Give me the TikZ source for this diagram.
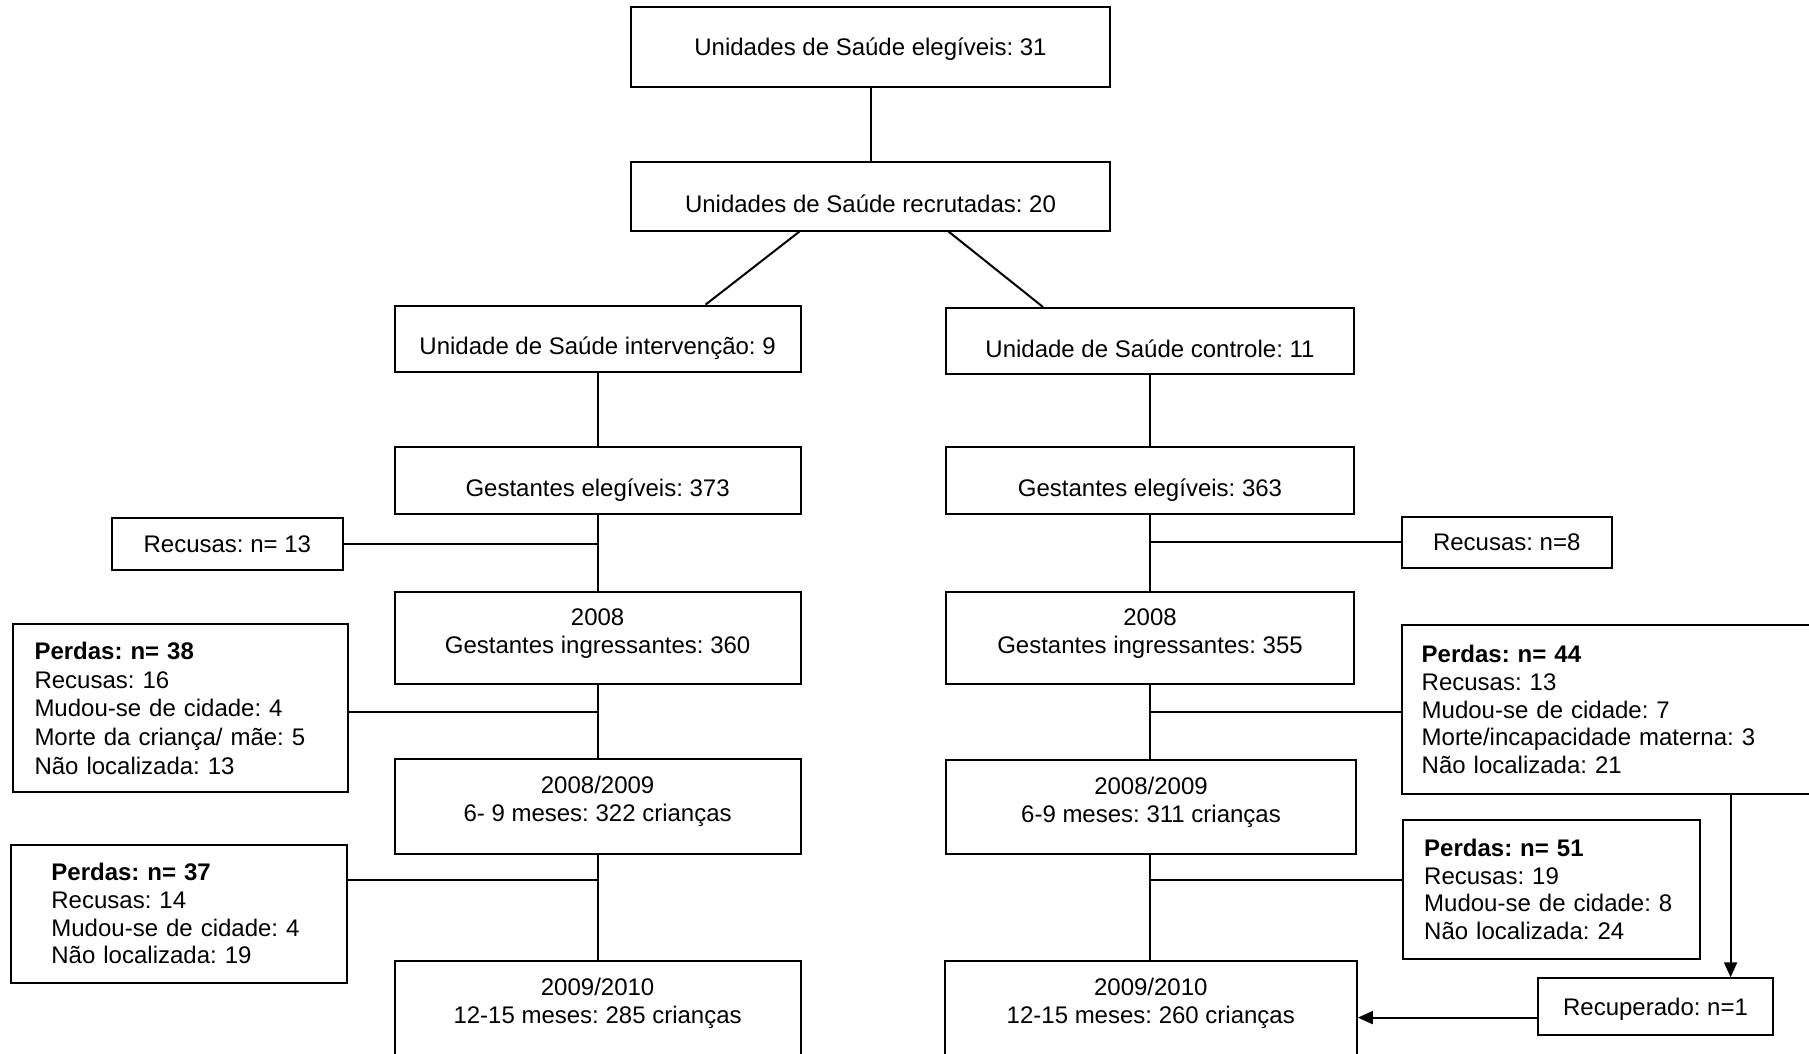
\documentclass[tikz,border=0pt]{standalone}
\usepackage{fontspec}
\setmainfont{Liberation Sans}
\frenchspacing
\usetikzlibrary{arrows.meta}
\begin{document}
\begin{tikzpicture}[
    x=1pt, y=-1pt,
    >={Triangle[length=15pt,width=13pt]},
    every node/.style={font=\fontsize{24}{27.6}\selectfont},
    unit/.style={
        draw=black,
        line width=2pt,
        fill=white,
        inner sep=0pt,
        align=center,
        text height=37pt,
        text depth=5pt
    },
    plain/.style={unit, text height=22pt, text depth=5pt},
    wave/.style={unit, text height=45pt, text depth=15pt},
    loss/.style={
        draw=black,
        line width=2pt,
        fill=white,
        inner ysep=0pt,
        align=left
    },
    link/.style={line width=2pt, draw=black},
    arr/.style={link, ->}
]
    \useasboundingbox (0,0) rectangle (1809,1054);
    \clip (0,0) rectangle (1809,1054);

    \node[plain, minimum width=479, minimum height=80] (elig) at (870.5,47) {Unidades de Saúde elegíveis: 31};
    \node[unit, minimum width=479, minimum height=69] (recr) at (870.5,196) {Unidades de Saúde recrutadas: 20};

    \node[unit, minimum width=406, minimum height=66] (interv) at (597.6,338.6) {Unidade de Saúde intervenção: 9};
    \node[unit, minimum width=408, minimum height=66] (contr) at (1150,341) {Unidade de Saúde controle: 11};

    \node[unit, minimum width=406, minimum height=67] (gestL) at (597.6,480) {Gestantes elegíveis: 373};
    \node[unit, minimum width=408, minimum height=67] (gestR) at (1150,480) {Gestantes elegíveis: 363};

    \node[plain, minimum width=231, minimum height=52] (recL) at (227.3,544) {Recusas: n= 13};
    \node[plain, minimum width=210, minimum height=51] (recR) at (1506.7,542.3) {Recusas: n=8};

    \node[wave, minimum width=406, minimum height=92] (entL) at (597.6,638) {2008\\Gestantes ingressantes: 360};
    \node[wave, minimum width=408, minimum height=92] (entR) at (1150,638) {2008\\Gestantes ingressantes: 355};

    \node[loss, font=\fontsize{24}{28.8}\selectfont, inner xsep=22pt, text width=291pt, minimum height=168] (lossA) at (180,708.4)
        {\textbf{Perdas: n= 38}\\Recusas: 16\\Mudou-se de cidade: 4\\Morte da criança/ mãe: 5\\Não localizada: 13};
    \node[loss, inner xsep=20pt, text width=390pt, minimum height=168.4] (lossB) at (1616.7,709.5)
        {\textbf{Perdas: n= 44}\\Recusas: 13\\Mudou-se de cidade: 7\\Morte/incapacidade materna: 3\\Não localizada: 21};

    \node[wave, minimum width=406, minimum height=95] (sixL) at (597.6,806.4) {2008/2009\\6- 9 meses: 322 crianças};
    \node[wave, minimum width=410, minimum height=93.4] (sixR) at (1151,807) {2008/2009\\6-9 meses: 311 crianças};

    \node[loss, inner xsep=40pt, text width=256pt, minimum height=138.5] (lossC) at (179.4,913.8)
        {\textbf{Perdas: n= 37}\\Recusas: 14\\Mudou-se de cidade: 4\\Não localizada: 19};
    \node[loss, inner xsep=21pt, text width=255pt, minimum height=138.4] (lossD) at (1551.7,889.5)
        {\textbf{Perdas: n= 51}\\Recusas: 19\\Mudou-se de cidade: 8\\Não localizada: 24};

    \node[wave, minimum width=406, minimum height=95] (finL) at (597.6,1008.5) {2009/2010\\12-15 meses: 285 crianças};
    \node[wave, minimum width=412, minimum height=95] (finR) at (1150.8,1008.5) {2009/2010\\12-15 meses: 260 crianças};

    \node[plain, minimum width=235, minimum height=56.6] (recov) at (1655.5,1006.6) {Recuperado: n=1};

    \coordinate (lossAtap) at ([yshift=-3.6pt]lossA.east);
    \coordinate (lossBtap) at ([yshift=-2.5pt]lossB.west);
    \coordinate (lossCtap) at ([yshift=33.8pt]lossC.east);
    \coordinate (lossDtap) at ([yshift=9.5pt]lossD.west);
    \coordinate (drop) at (1730.6,793.7);
    \coordinate (back) at ([yshift=-11pt]recov.west);

    \draw[link] (elig) -- (recr);
    \draw[link] ([xshift=-71pt]recr.south) -- ([xshift=108pt]interv.north);
    \draw[link] ([xshift=78pt]recr.south) -- ([xshift=-107pt]contr.north);

    \draw[link] (interv) -- (gestL);
    \draw[link] (gestL) -- (entL);
    \draw[link] (recL) -- (recL -| gestL);
    \draw[link] (entL) -- (sixL);
    \draw[link] (lossAtap) -- (lossAtap -| entL);
    \draw[link] (sixL) -- (finL);
    \draw[link] (lossCtap) -- (lossCtap -| sixL);

    \draw[link] (contr) -- (gestR);
    \draw[link] (gestR) -- (entR);
    \draw[link] (recR) -- (recR -| gestR);
    \draw[link] (entR) -- (entR |- sixR.north);
    \draw[link] (lossBtap) -- (lossBtap -| entR);
    \draw[link] (sixR.south -| entR) -- (entR |- finR.north);
    \draw[link] (lossDtap) -- (lossDtap -| entR);

    \draw[arr] (drop) -- (drop |- recov.north);
    \draw[arr] (back) -- (back -| finR.east);
\end{tikzpicture}
\end{document}
